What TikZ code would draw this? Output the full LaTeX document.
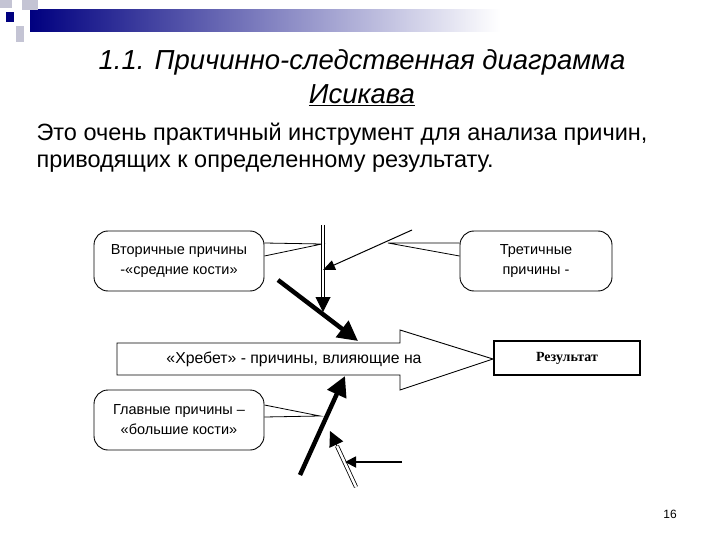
\documentclass[tikz,border=0pt]{standalone}
\usepackage{fontspec}
\setmainfont{Liberation Sans}
\newfontfamily\serifb{Liberation Serif}
\usetikzlibrary{arrows.meta}
\begin{document}
\begin{tikzpicture}[x=1pt,y=-1pt,
  bub/.style={draw,rounded corners=14pt,line width=0.9pt,minimum width=170pt,minimum height=60pt,align=center,font=\fontsize{14.5}{20}\selectfont,fill=white},
  thick arr/.style={line width=4.5pt,-{Triangle[length=20pt,width=20pt]}},
  med arr/.style={line width=1pt,-{Triangle[length=12pt,width=10pt]}},
  dbl line/.style={double,double distance=2.5pt,line width=0.8pt},
  tip only/.style={line width=1pt,-{Triangle[length=15pt,width=15pt]}}]
\useasboundingbox (0,0) rectangle (720,540);
% header decoration
\shade[left color=blue!50!black, right color=white] (30,10) rectangle (500,32);
\fill[blue!50!black] (6,12) rectangle (14,22);
\fill[blue!15!gray!40] (0,0) rectangle (12,8);
\fill[blue!15!gray!40] (16,26) rectangle (24,42);
\fill[blue!15!gray!40] (22,0) rectangle (38,10);
% title
\node[font=\fontsize{27.5}{30}\itshape] (t1) at (362,62) {1.1. Причинно-следственная диаграмма};
\node[font=\fontsize{27.5}{30}\itshape] (t2) at (362,95) {\underline{Исикава}};
\node[anchor=west,font=\fontsize{23.5}{27}\selectfont,align=left] (body) at (33,148) {Это очень практичный инструмент для анализа причин,\\ приводящих к определенному результату.};
% boxes
\node[bub] (b1) at (179,261) {Вторичные причины\\-«средние кости»};
\node[bub,minimum width=152pt] (b2) at (536,261) {Третичные\\причины -};
\node[bub] (b3) at (179,420) {Главные причины –\\«большие кости»};
\coordinate (p1) at (322,244);
\coordinate (p2) at (388,243);
\coordinate (p3) at (320,416);
\draw[line width=0.8pt] (b1.east |- 0,243) -- (p1) -- (b1.east |- 0,256);
\draw[line width=0.8pt] (b2.west |- 0,243) -- (p2) -- (b2.west |- 0,256);
\draw[line width=0.8pt] (b3.east |- 0,405) -- (p3) -- (b3.east |- 0,417);
% spine
\draw[line width=0.9pt,fill=white] (117,343) -- (400,343) -- (400,330) -- (493,359) -- (400,390) -- (400,375) -- (117,375) -- cycle;
\node[font=\fontsize{15.8}{18}\selectfont] (sp) at (294,359) {«Хребет» - причины, влияющие на};
\node[draw,line width=2pt,minimum width=146pt,minimum height=34pt,font=\serifb\bfseries\fontsize{14}{16}\selectfont] (res) at (567,358) {Результат};
% bones
\coordinate (a1) at (323,225); \coordinate (a1m) at (323,298); \coordinate (a1e) at (323,312);
\draw[dbl line] (a1) -- (a1m);
\draw[tip only] (a1m) -- (a1e);
\coordinate (a2) at (412,230); \coordinate (a2e) at (323,270);
\draw[med arr] (a2) -- (a2e);
\coordinate (a3) at (278,280); \coordinate (a3e) at (358,341);
\draw[thick arr] (a3) -- (a3e);
\coordinate (a4) at (300,475); \coordinate (a4e) at (345,376);
\draw[thick arr] (a4) -- (a4e);
\coordinate (a5) at (356,487); \coordinate (a5m) at (337,446); \coordinate (a5e) at (330,431);
\draw[dbl line] (a5) -- (a5m);
\draw[tip only] (a5m) -- (a5e);
\coordinate (a6) at (402,462); \coordinate (a6e) at (345,462);
\draw[line width=1.8pt,-{Triangle[length=11pt,width=11pt]}] (a6) -- (a6e);
\node[font=\fontsize{12}{14}\selectfont] (pg) at (670,514) {16};
\end{tikzpicture}
\end{document}
